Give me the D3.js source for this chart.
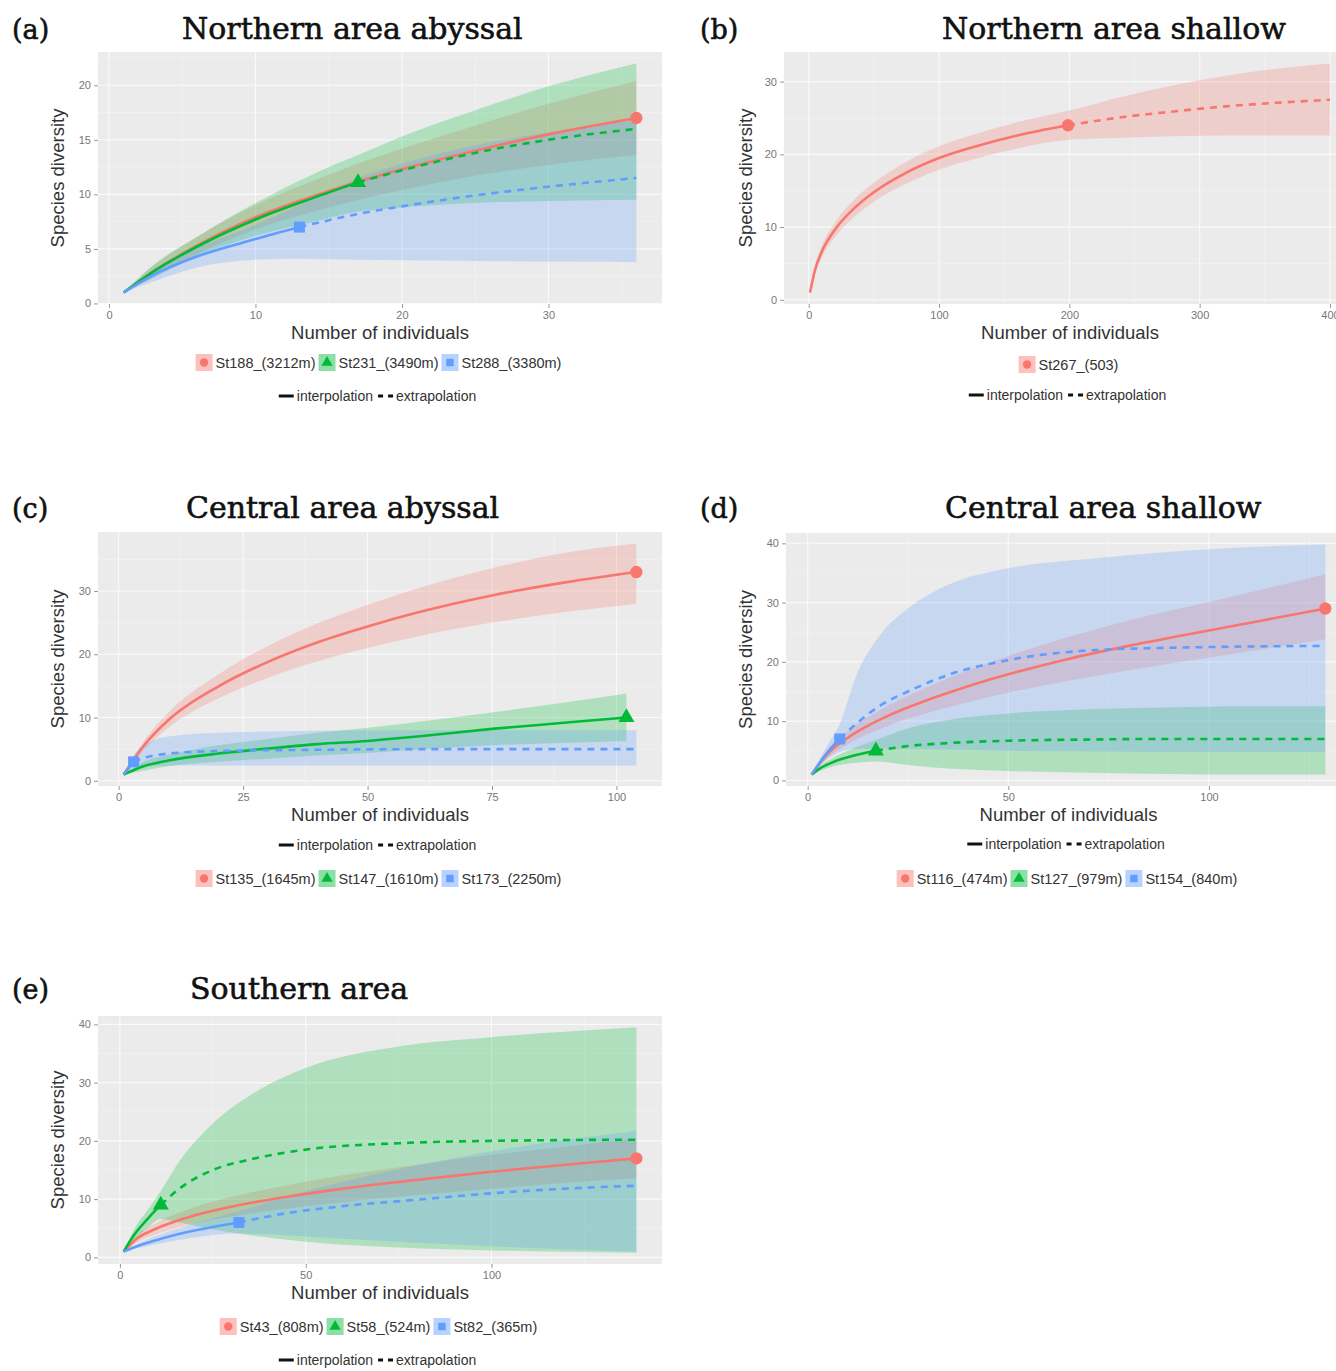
<!DOCTYPE html>
<html>
<head>
<meta charset="utf-8">
<script src="https://cdn.jsdelivr.net/npm/d3@7"></script>
<style>
body{margin:0;background:#fff;}
svg{display:block;font-family:"Liberation Sans",Arial,sans-serif;}
.ttl{font-family:"DejaVu Serif",serif;fill:#111;stroke:#111;stroke-width:0.6;}
</style>
</head>
<body>
<svg id="fig" width="1336" height="1371"></svg>
<script>
// ---- (a) Northern area abyssal
var st188_m=[1,3,6,10,15,20,25,30,36];
var st188_q=[1,2.9,5.3,7.9,10.3,12.3,14.0,15.5,17.0];
var st188_lo=[1,2.4,4.5,6.8,8.8,10.4,11.7,12.7,13.6];
var st188_hi=[1,3.4,6.1,9.0,11.8,14.2,16.3,18.3,20.4];
var st231_m=[1,3,6,10,14,17,20,25,30,36];
var st231_q=[1,2.9,5.2,7.7,9.7,11.1,12.2,13.8,15.0,16.0];
var st231_lo=[1,2.3,4.3,6.2,7.5,8.4,8.8,9.2,9.4,9.5];
var st231_hi=[1,3.5,6.1,9.2,11.9,13.6,15.3,17.7,19.9,22.0];
var st288_m=[1,3,6,10,13,17,20,25,30,36];
var st288_q=[1,2.6,4.3,5.9,7.0,8.2,8.9,9.9,10.7,11.5];
var st288_lo=[1,2.0,3.3,4.0,4.1,4.0,3.95,3.9,3.85,3.8];
var st288_hi=[1,3.1,5.1,7.2,9.0,11.5,12.8,14.5,15.7,16.8];
// ---- (b) Northern area shallow
var st267_m=[1,5,10,20,35,50,75,100,130,160,199,240,280,320,360,400];
var st267_q=[1,4.2,6.6,9.6,12.6,14.8,17.5,19.5,21.2,22.6,24.0,25.1,25.9,26.6,27.1,27.5];
var st267_lo=[1,3.6,5.8,8.6,11.4,13.5,16.0,17.9,19.5,20.8,22.0,22.3,22.5,22.6,22.6,22.6];
var st267_hi=[1,4.8,7.4,10.6,13.8,16.1,19.0,21.1,22.9,24.4,26.0,27.9,29.5,30.8,31.8,32.5];
// ---- (c) Central area abyssal
var st135_m=[1,5,10,20,30,40,50,60,75,90,104];
var st135_q=[1,5.5,9.6,14.9,18.8,21.9,24.4,26.6,29.3,31.4,33.0];
var st135_lo=[1,4.8,8.4,13.0,16.3,18.9,21.0,22.8,25.0,26.7,28.0];
var st135_hi=[1,6.2,10.8,16.8,21.3,24.9,27.8,30.4,33.6,36.1,37.5];
var st147_m=[1,5,10,20,30,40,50,60,75,90,102];
var st147_q=[1,2.3,3.2,4.3,5.1,5.8,6.3,7.0,8.2,9.2,10.0];
var st147_lo=[1,1.6,2.3,3.0,3.5,4.0,4.4,4.9,5.6,6.0,6.3];
var st147_hi=[1,3.0,4.1,5.6,6.6,7.6,8.4,9.3,10.8,12.4,13.8];
var st173_m=[1,2,3,6,10,20,40,60,80,104];
var st173_q=[1,2,3,3.8,4.3,4.7,4.9,5.0,5.0,5.0];
var st173_lo=[1,1.5,2.0,2.3,2.4,2.4,2.4,2.4,2.4,2.4];
var st173_hi=[1,2.5,4.0,6.0,7.0,7.6,7.9,8.0,8.0,8.0];
// ---- (d) Central area shallow
var st116_m=[1,5,10,20,30,40,50,65,80,100,115,129];
var st116_q=[1,4.5,7.2,10.9,13.6,15.9,17.9,20.5,22.7,25.3,27.2,29.0];
var st116_lo=[1,3.8,6.1,9.2,11.4,13.2,14.8,16.8,18.6,20.7,22.3,23.8];
var st116_hi=[1,5.2,8.3,12.6,15.8,18.6,21.0,24.2,27.0,30.1,32.5,34.8];
var st127_m=[1,3,6,10,17,25,35,50,70,90,110,129];
var st127_q=[1,2.0,3.0,3.9,5.0,5.8,6.3,6.7,6.9,7.0,7.0,7.0];
var st127_lo=[1,1.6,2.3,2.8,3.2,2.6,2.0,1.6,1.3,1.1,1.0,1.0];
var st127_hi=[1,2.4,3.7,5.0,6.8,8.8,10.2,11.3,12.0,12.3,12.5,12.5];
var st154_m=[1,3,5,8,12,18,25,35,50,72,100,129];
var st154_q=[1,3.0,4.8,7.0,9.5,12.6,15.0,17.8,20.3,22.0,22.5,22.7];
var st154_lo=[1,2.4,3.6,4.8,5.3,5.4,5.3,5.2,5.0,4.9,4.8,4.8];
var st154_hi=[1,3.6,6.0,9.5,17.5,24.5,29.0,33.0,35.8,37.5,39.0,39.8];
// ---- (e) Southern area
var st43_m=[1,5,10,20,30,45,60,80,100,120,139];
var st43_q=[1,3.4,5.0,7.2,8.7,10.4,11.8,13.3,14.7,15.9,17.0];
var st43_lo=[1,2.7,4.0,5.8,7.0,8.4,9.5,10.7,11.8,12.8,13.6];
var st43_hi=[1,4.1,6.0,8.6,10.4,12.4,14.1,15.9,17.6,19.0,20.4];
var st58_m=[1,4,8,11,16,25,35,50,75,100,139];
var st58_q=[1,4.0,7.0,9.0,11.8,15.0,16.8,18.5,19.6,20.0,20.2];
var st58_lo=[1,3.0,5.4,6.6,6.0,4.8,3.8,2.7,1.7,1.2,0.8];
var st58_hi=[1,5.0,8.6,11.4,16.5,23.0,27.8,32.5,36.2,37.8,39.5];
var st82_m=[1,5,10,20,32,45,60,80,100,120,139];
var st82_q=[1,2.0,3.0,4.6,6.0,7.6,8.8,9.9,11.0,11.8,12.3];
var st82_lo=[1,1.6,2.3,3.4,4.1,3.8,3.2,2.5,1.9,1.4,1.0];
var st82_hi=[1,2.4,3.7,5.8,7.9,10.5,13.0,15.8,18.2,20.2,21.7];

var lineTypes=["interpolation","extrapolation"];
var colors=["#F8766D","#00BA38","#619CFF"];
var shapes=[d3.symbolCircle,d3.symbolTriangle,d3.symbolSquare];

function station(name,c,n,m,q,lo,hi){
  return {name:name,c:c,n:n,pts:m.map(function(d,i){return {m:d,q:q[i],lo:lo[i],hi:hi[i]};})};
}

var panels=[
  {lab:"(a)",title:"Northern area abyssal",lx:12,tx:182,ty:39,box:[98,662,52,304],
   xt:[0,10,20,30],yt:[0,5,10,15,20],ytx:64,legY:[363,397],
   st:[station("St188_(3212m)",0,36,st188_m,st188_q,st188_lo,st188_hi),
       station("St231_(3490m)",1,17,st231_m,st231_q,st231_lo,st231_hi),
       station("St288_(3380m)",2,13,st288_m,st288_q,st288_lo,st288_hi)]},
  {lab:"(b)",title:"Northern area shallow",lx:700,tx:942,ty:39,box:[784,1356,52,304],
   xt:[0,100,200,300,400],yt:[0,10,20,30],ytx:752,legY:[365,396],
   st:[station("St267_(503)",0,199,st267_m,st267_q,st267_lo,st267_hi)]},
  {lab:"(c)",title:"Central area abyssal",lx:12,tx:186,ty:518,box:[98,662,532,786],
   xt:[0,25,50,75,100],yt:[0,10,20,30],ytx:64,legY:[879,846],
   st:[station("St135_(1645m)",0,104,st135_m,st135_q,st135_lo,st135_hi),
       station("St147_(1610m)",1,102,st147_m,st147_q,st147_lo,st147_hi),
       station("St173_(2250m)",2,3,st173_m,st173_q,st173_lo,st173_hi)]},
  {lab:"(d)",title:"Central area shallow",lx:700,tx:945,ty:518,box:[786,1351,533,786],
   xt:[0,50,100],yt:[0,10,20,30,40],ytx:752,legY:[879,845],
   st:[station("St116_(474m)",0,129,st116_m,st116_q,st116_lo,st116_hi),
       station("St127_(979m)",1,17,st127_m,st127_q,st127_lo,st127_hi),
       station("St154_(840m)",2,8,st154_m,st154_q,st154_lo,st154_hi)]},
  {lab:"(e)",title:"Southern area",lx:12,tx:190,ty:999,box:[98,662,1016,1264],
   xt:[0,50,100],yt:[0,10,20,30,40],ytx:64,legY:[1327,1361],
   st:[station("St43_(808m)",0,139,st43_m,st43_q,st43_lo,st43_hi),
       station("St58_(524m)",1,11,st58_m,st58_q,st58_lo,st58_hi),
       station("St82_(365m)",2,32,st82_m,st82_q,st82_lo,st82_hi)]}
];

var svg=d3.select("#fig");

function expand(ext){
  var r=(ext[1]-ext[0])*0.05;
  return [ext[0]-r,ext[1]+r];
}

panels.forEach(function(p,pi){
  var all=[];
  p.st.forEach(function(s){all=all.concat(s.pts);});
  var xDom=expand(d3.extent(all,function(d){return d.m;}));
  var yDom=expand([d3.min(all,function(d){return Math.min(d.lo,d.q);}),d3.max(all,function(d){return Math.max(d.hi,d.q);})]);
  var x=d3.scaleLinear().domain(xDom).range([p.box[0],p.box[1]]);
  var y=d3.scaleLinear().domain(yDom).range([p.box[3],p.box[2]]);
  var g=svg.append("g");
  var bw=p.box[1]-p.box[0],bh=p.box[3]-p.box[2];

  g.append("rect").attr("x",p.box[0]).attr("y",p.box[2]).attr("width",bw).attr("height",bh).attr("fill","#EBEBEB");

  // minor + major grid
  var xs=p.xt[1]-p.xt[0],ys=p.yt[1]-p.yt[0];
  var xMinor=d3.range(p.xt[0]-xs/2,xDom[1],xs).filter(function(v){return v>xDom[0];});
  var yMinor=d3.range(p.yt[0]-ys/2,yDom[1],ys).filter(function(v){return v>yDom[0];});
  g.selectAll(null).data(xMinor).enter().append("line")
    .attr("x1",x).attr("x2",x).attr("y1",p.box[2]).attr("y2",p.box[3])
    .attr("stroke","#F5F5F5").attr("stroke-width",0.6);
  g.selectAll(null).data(yMinor).enter().append("line")
    .attr("y1",y).attr("y2",y).attr("x1",p.box[0]).attr("x2",p.box[1])
    .attr("stroke","#F5F5F5").attr("stroke-width",0.6);
  g.selectAll(null).data(p.xt).enter().append("line")
    .attr("x1",x).attr("x2",x).attr("y1",p.box[2]).attr("y2",p.box[3])
    .attr("stroke","#FAFAFA").attr("stroke-width",1.1);
  g.selectAll(null).data(p.yt).enter().append("line")
    .attr("y1",y).attr("y2",y).attr("x1",p.box[0]).attr("x2",p.box[1])
    .attr("stroke","#FAFAFA").attr("stroke-width",1.1);

  // axes
  var xAxis=d3.axisBottom(x).tickValues(p.xt).tickSize(4).tickPadding(3);
  var yAxis=d3.axisLeft(y).tickValues(p.yt).tickSize(4).tickPadding(3);
  var gx=g.append("g").attr("transform","translate(0,"+p.box[3]+")").call(xAxis);
  var gy=g.append("g").attr("transform","translate("+p.box[0]+",0)").call(yAxis);
  [gx,gy].forEach(function(ax){
    ax.select(".domain").remove();
    ax.selectAll(".tick line").attr("stroke","#999");
    ax.selectAll(".tick text").attr("fill","#777").style("font-size","11px");
  });

  // clip
  var cid="clip"+pi;
  g.append("clipPath").attr("id",cid).append("rect")
    .attr("x",p.box[0]).attr("y",p.box[2]).attr("width",bw).attr("height",bh);
  var plot=g.append("g").attr("clip-path","url(#"+cid+")");

  var area=d3.area().curve(d3.curveMonotoneX)
    .x(function(d){return x(d.m);}).y0(function(d){return y(d.lo);}).y1(function(d){return y(d.hi);});
  var line=d3.line().curve(d3.curveMonotoneX)
    .x(function(d){return x(d.m);}).y(function(d){return y(d.q);});

  p.st.forEach(function(s){
    plot.append("path").datum(s.pts).attr("d",area)
      .attr("fill",colors[s.c]).attr("fill-opacity",0.25);
  });
  p.st.forEach(function(s){
    var inter=s.pts.filter(function(d){return d.m<=s.n;});
    var extra=s.pts.filter(function(d){return d.m>=s.n;});
    plot.append("path").datum(inter).attr("d",line)
      .attr("fill","none").attr("stroke",colors[s.c]).attr("stroke-width",2.6);
    if(extra.length>1){
      plot.append("path").datum(extra).attr("d",line)
        .attr("fill","none").attr("stroke",colors[s.c]).attr("stroke-width",2.6)
        .attr("stroke-dasharray","7,6");
    }
  });
  p.st.forEach(function(s){
    var o=s.pts.filter(function(d){return d.m===s.n;})[0];
    plot.append("path").attr("d",d3.symbol().type(shapes[s.c]).size(s.c===1?110:120)())
      .attr("transform","translate("+x(o.m)+","+y(o.q)+")")
      .attr("fill",colors[s.c]);
  });

  // texts
  svg.append("text").attr("class","ttl").attr("x",p.lx).attr("y",p.ty).style("font-size","27px").text(p.lab);
  svg.append("text").attr("class","ttl").attr("x",p.tx).attr("y",p.ty).style("font-size","30px").text(p.title);
  var cx=(p.box[0]+p.box[1])/2;
  svg.append("text").attr("x",cx).attr("y",p.box[3]+35).attr("text-anchor","middle")
    .attr("fill","#333").style("font-size","18.5px").text("Number of individuals");
  svg.append("text").attr("transform","translate("+p.ytx+","+((p.box[2]+p.box[3])/2)+") rotate(-90)")
    .attr("text-anchor","middle").attr("fill","#333").style("font-size","18.5px").text("Species diversity");

  // legend: stations
  var ls=svg.append("g");
  var cur=0;
  p.st.forEach(function(s){
    var k=ls.append("g").attr("transform","translate("+cur+",0)");
    k.append("rect").attr("x",0).attr("y",-9).attr("width",17).attr("height",17)
      .attr("fill",colors[s.c]).attr("fill-opacity",0.45);
    k.append("path").attr("d",d3.symbol().type(shapes[s.c]).size(55)())
      .attr("transform","translate(8.5,-0.5)").attr("fill",colors[s.c]);
    var t=k.append("text").attr("x",20).attr("y",5).attr("fill","#333").style("font-size","14.5px").text(s.name);
    cur+=20+t.node().getComputedTextLength()+3;
  });
  ls.attr("transform","translate("+(cx-cur/2)+","+p.legY[0]+")");

  // legend: line types
  var ll=svg.append("g");
  var c2=0;
  lineTypes.forEach(function(lt,i){
    var k=ll.append("g").attr("transform","translate("+c2+",0)");
    k.append("line").attr("x1",0).attr("x2",15).attr("y1",-1).attr("y2",-1)
      .attr("stroke","#111").attr("stroke-width",3)
      .attr("stroke-dasharray",i===1?"5,5":null);
    var t=k.append("text").attr("x",18).attr("y",4).attr("fill","#333").style("font-size","14px").text(lt);
    c2+=18+t.node().getComputedTextLength()+5;
  });
  ll.attr("transform","translate("+(cx-c2/2)+","+p.legY[1]+")");
});
</script>
</body>
</html>
